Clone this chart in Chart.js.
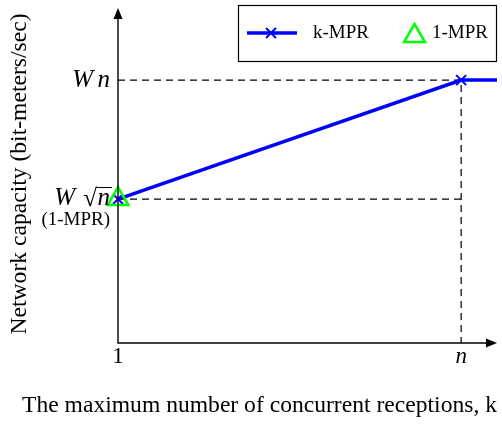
<!DOCTYPE html>
<html><head><meta charset="utf-8">
<script src="https://cdn.jsdelivr.net/npm/chart.js@4/dist/chart.umd.min.js"></script>
<style>html,body{margin:0;padding:0;background:#fff}#wrap{width:502px;height:424px}</style>
</head><body><div id="wrap"><canvas id="c" width="502" height="424"></canvas></div>
<script>
// ---- data ----
const xTickValues = [1, 10];
const xTickLabels = ['1', 'n'];
const yTickValues = [5.475, 10];
const kmprX = [1, 10, 10.94];
const kmprY = [5.475, 10, 10];
const mpr1X = [1];
const mpr1Y = [5.475];
const guideAX = [1, 10, 10];
const guideAY = [10, 10, 0];
const guideBX = [1, 10];
const guideBY = [5.475, 5.475];
const seriesNames = ['k-MPR', '1-MPR'];
const xTitle = 'The maximum number of concurrent receptions, k';
const yTitle = 'Network capacity (bit-meters/sec)';

const pts = (xs, ys) => xs.map((x, i) => ({x, y: ys[i]}));
const SERIF = '"Liberation Serif", "DejaVu Serif", serif';

const decor = {
  id: 'decor',
  afterDraw(chart) {
    const ctx = chart.ctx, a = chart.chartArea;
    const xs = chart.scales.x, ys = chart.scales.y;
    ctx.save();
    ctx.strokeStyle = '#000'; ctx.fillStyle = '#000'; ctx.lineWidth = 1.4;
    // axes
    ctx.beginPath();
    ctx.moveTo(a.left, a.top + 6); ctx.lineTo(a.left, a.bottom); ctx.lineTo(a.right - 6, a.bottom);
    ctx.stroke();
    // arrows
    ctx.beginPath();
    ctx.moveTo(a.left, a.top); ctx.lineTo(a.left - 4.5, a.top + 11); ctx.lineTo(a.left + 4.5, a.top + 11); ctx.closePath(); ctx.fill();
    ctx.beginPath();
    ctx.moveTo(a.right, a.bottom); ctx.lineTo(a.right - 11, a.bottom - 4.5); ctx.lineTo(a.right - 11, a.bottom + 4.5); ctx.closePath(); ctx.fill();
    // x tick labels
    ctx.textBaseline = 'middle'; ctx.textAlign = 'center';
    xTickValues.forEach((v, i) => {
      const lab = xTickLabels[i];
      ctx.font = (lab === 'n' ? 'italic ' : '') + '23px ' + SERIF;
      ctx.fillText(lab, xs.getPixelForValue(v), a.bottom + 14);
    });
    // y tick labels
    const yWn = ys.getPixelForValue(yTickValues[1]);
    ctx.textAlign = 'right';
    ctx.font = 'italic 25px ' + SERIF;
    ctx.fillText('W', a.left - 25, yWn);
    ctx.fillText('n', a.left - 8, yWn);
    const ySq = ys.getPixelForValue(yTickValues[0]);
    ctx.fillText('W', a.left - 43, ySq - 1);
    ctx.fillText('n', a.left - 8, ySq - 1);
    ctx.font = '25px ' + SERIF;
    ctx.fillText('\u221A', a.left - 21, ySq);
    ctx.lineWidth = 1;
    ctx.beginPath(); ctx.moveTo(a.left - 22, ySq - 11.5); ctx.lineTo(a.left - 6, ySq - 11.5); ctx.stroke();
    ctx.font = '19px ' + SERIF;
    ctx.fillText('(1-MPR)', a.left - 8, ySq + 21);
    // titles
    ctx.textAlign = 'left'; ctx.textBaseline = 'alphabetic';
    ctx.font = '23.6px ' + SERIF;
    ctx.fillText(xTitle, 22, 412);
    ctx.save();
    ctx.translate(26, 174); ctx.rotate(-Math.PI / 2);
    ctx.textAlign = 'center';
    ctx.fillText(yTitle, 0, 0);
    ctx.restore();
    // legend
    ctx.textBaseline = 'middle';
    ctx.fillStyle = '#fff'; ctx.fillRect(238.5, 5.5, 258, 56);
    ctx.lineWidth = 1.2; ctx.strokeStyle = '#000'; ctx.strokeRect(238.5, 5.5, 258, 56);
    const ly = 33;
    const d0 = chart.data.datasets[0], d1 = chart.data.datasets[1];
    ctx.strokeStyle = d0.borderColor; ctx.lineWidth = 3.5;
    ctx.beginPath(); ctx.moveTo(247, ly); ctx.lineTo(297, ly); ctx.stroke();
    ctx.lineWidth = 2;
    Chart.helpers.drawPoint(ctx, {pointStyle: 'crossRot', radius: 7, borderWidth: 2}, 271, ly);
    ctx.fillStyle = '#000'; ctx.font = '19px ' + SERIF; ctx.textAlign = 'left';
    ctx.fillText(seriesNames[0], 313, ly);
    ctx.strokeStyle = d1.pointBorderColor; ctx.lineWidth = 2.5;
    ctx.beginPath(); ctx.moveTo(414.5, 24); ctx.lineTo(425, 42); ctx.lineTo(404, 42); ctx.closePath(); ctx.stroke();
    ctx.fillText(seriesNames[1], 432, ly);
    ctx.restore();
  }
};

new Chart(document.getElementById('c'), {
  type: 'scatter',
  data: {
    datasets: [
      {label: seriesNames[0], data: pts(kmprX, kmprY), showLine: true, borderColor: '#0000ff', borderWidth: 3.5,
       pointStyle: 'crossRot', pointRadius: [7, 7, 0], pointBorderColor: '#0000ff', pointBorderWidth: 2, clip: false, order: 1},
      {label: seriesNames[1], data: pts(mpr1X, mpr1Y), showLine: false, pointStyle: 'triangle', pointRadius: 12,
       pointBorderColor: '#00ff00', pointBackgroundColor: 'rgba(0,0,0,0)', pointBorderWidth: 2.5, clip: false, order: 0},
      {label: 'guideA', data: pts(guideAX, guideAY), showLine: true, borderColor: '#000', borderWidth: 1.2,
       borderDash: [7, 5], pointRadius: 0, clip: false, order: 2},
      {label: 'guideB', data: pts(guideBX, guideBY), showLine: true, borderColor: '#000', borderWidth: 1.2,
       borderDash: [7, 5], pointRadius: 0, clip: false, order: 2}
    ]
  },
  options: {
    responsive: false, animation: false, devicePixelRatio: 1,
    layout: {autoPadding: false, padding: {left: 118, right: 5, top: 8, bottom: 81}},
    plugins: {legend: {display: false}, tooltip: {enabled: false}},
    scales: {
      x: {type: 'linear', min: 1, max: 10.94, display: false},
      y: {type: 'linear', min: 0, max: 12.74, display: false}
    }
  },
  plugins: [decor]
});
</script></body></html>
